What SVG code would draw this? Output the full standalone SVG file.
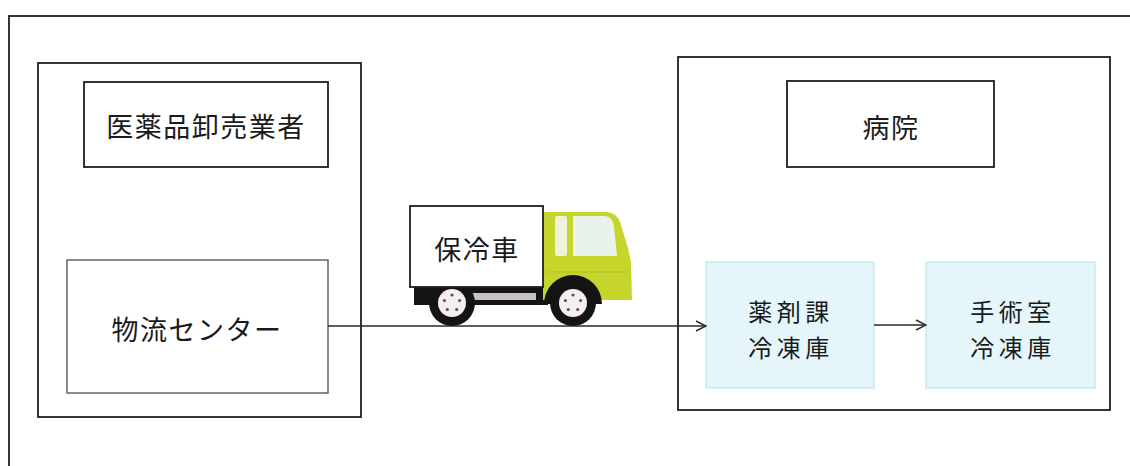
<svg xmlns="http://www.w3.org/2000/svg" width="1130" height="466" viewBox="0 0 1130 466">
  <defs>
    <style>
      .frame { fill: none; stroke: #1e1e1e; stroke-width: 1.8; }
      .box { fill: #ffffff; stroke: #1e1e1e; stroke-width: 1.8; }
      .soft { fill: #ffffff; stroke: #5a5a5a; stroke-width: 1.4; }
      .fridge { fill: #e4f6fa; stroke: #c4e9f0; stroke-width: 1.4; }
      .label { font-family: "Noto Sans CJK JP", "Noto Sans", sans-serif; font-size: 27px; fill: #1a1a1a; text-anchor: middle; letter-spacing: 1.5px; }
      .small { font-size: 24px; letter-spacing: 4.5px; }
      .conn { fill: none; stroke: #2a2a2a; stroke-width: 1.4; }
      .hub { fill: #f4eef2; }
      .dot { fill: #6a4a5a; }
    </style>
    <marker id="arrow" viewBox="0 0 12 12" refX="11" refY="6" markerWidth="12" markerHeight="12" markerUnits="userSpaceOnUse" orient="auto">
      <polyline points="1,1 11,6 1,11" fill="none" stroke="#2a2a2a" stroke-width="1.4"/>
    </marker>
  </defs>

  <rect width="1130" height="466" fill="#ffffff"/>

  <!-- outer frame (runs past the right and bottom edges) -->
  <rect class="frame" x="9" y="16" width="1140" height="480"/>

  <!-- wholesaler side -->
  <g id="wholesaler">
    <rect class="frame" x="38" y="63" width="323" height="354"/>
  </g>
  <g id="wholesaler-label">
    <rect class="box" x="84" y="82" width="244" height="85"/>
    <text class="label" x="206" y="137">医薬品卸売業者</text>
  </g>
  <g id="logistics-center">
    <rect class="soft" x="67" y="260" width="261" height="133"/>
    <text class="label" x="197" y="340">物流センター</text>
  </g>

  <!-- hospital side -->
  <g id="hospital">
    <rect class="frame" x="678" y="57" width="432" height="353"/>
  </g>
  <g id="hospital-label">
    <rect class="box" x="787" y="81" width="207" height="86"/>
    <text class="label" x="891" y="138">病院</text>
  </g>
  <g id="pharmacy-freezer">
    <rect class="fridge" x="706" y="262" width="168" height="126"/>
    <text class="label small" x="791" y="321">薬剤課</text>
    <text class="label small" x="791" y="357">冷凍庫</text>
  </g>
  <g id="surgery-freezer">
    <rect class="fridge" x="926" y="262" width="169" height="126"/>
    <text class="label small" x="1013" y="321">手術室</text>
    <text class="label small" x="1013" y="357">冷凍庫</text>
  </g>

  <!-- connectors -->
  <g id="connectors">
    <line class="conn" x1="328" y1="326" x2="706" y2="326" marker-end="url(#arrow)"/>
    <line class="conn" x1="874" y1="325" x2="926" y2="325" marker-end="url(#arrow)"/>
  </g>

  <!-- refrigerated truck -->
  <g id="truck">
    <!-- chassis -->
    <rect x="414" y="286" width="134" height="19" fill="#141414"/>
    <rect x="432" y="293" width="104" height="7" fill="#c9c0c8"/>
    <!-- cab -->
    <path d="M543,212 L606,212 Q616,212 620,222 L628,248 L631,262 L632,300 L543,300 Z" fill="#c6d52c"/>
    <path d="M548,272 L628,272" stroke="#aebd22" stroke-width="1.2"/>
    <rect x="555" y="216" width="12" height="40" rx="2" fill="#eef4dc"/>
    <path d="M573,216 L605,216 Q612,216 614,226 L617,256 L573,256 Z" fill="#e9f3ea"/>
    <!-- wheel arch -->
    <path d="M544,304 A29,29 0 0 1 602,304 Z" fill="#141414"/>
    <!-- wheels -->
    <circle cx="452" cy="303" r="23" fill="#141414"/>
    <circle class="hub" cx="452" cy="303" r="14"/>
    <circle class="dot" cx="452" cy="295" r="1.6"/>
    <circle class="dot" cx="459.6" cy="300.5" r="1.6"/>
    <circle class="dot" cx="456.7" cy="309.5" r="1.6"/>
    <circle class="dot" cx="447.3" cy="309.5" r="1.6"/>
    <circle class="dot" cx="444.4" cy="300.5" r="1.6"/>
    <circle cx="573" cy="303" r="23" fill="#141414"/>
    <circle class="hub" cx="573" cy="303" r="14"/>
    <circle class="dot" cx="573" cy="295" r="1.6"/>
    <circle class="dot" cx="580.6" cy="300.5" r="1.6"/>
    <circle class="dot" cx="577.7" cy="309.5" r="1.6"/>
    <circle class="dot" cx="568.3" cy="309.5" r="1.6"/>
    <circle class="dot" cx="565.4" cy="300.5" r="1.6"/>
    <!-- cargo box -->
    <rect class="box" x="410" y="206" width="133" height="81"/>
    <text class="label" x="477" y="260">保冷車</text>
  </g>
</svg>
